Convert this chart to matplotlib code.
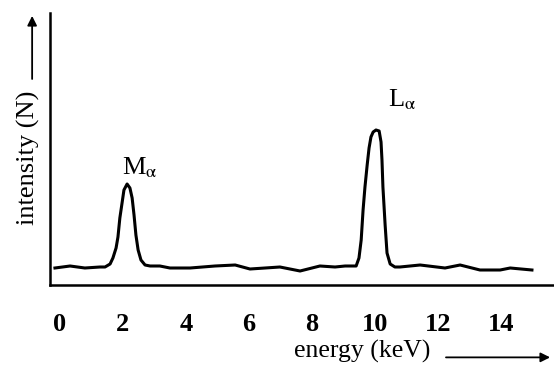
import matplotlib
matplotlib.use('Agg')
import matplotlib.pyplot as plt

# spectrum (energy in keV, intensity in arbitrary units)
energy = [-0.16, 0.32, 0.79, 1.27, 1.43, 1.59, 1.68, 1.78, 1.84, 1.90, 1.97, 2.03,
          2.13, 2.22, 2.29, 2.35, 2.41, 2.48, 2.57, 2.70, 2.86, 3.17, 3.49, 4.13,
          4.92, 5.56, 6.03, 6.51, 6.98, 7.62, 8.25, 8.73, 9.05, 9.40, 9.49, 9.56,
          9.62, 9.68, 9.75, 9.81, 9.87, 9.94, 10.03, 10.13, 10.19, 10.22, 10.25,
          10.32, 10.38, 10.48, 10.63, 10.79, 11.43, 12.22, 12.70, 13.33, 13.97,
          14.29, 14.98]
intensity = [17, 19, 17, 18, 18, 21, 27, 37, 48, 67, 82, 95,
             101, 97, 87, 70, 50, 35, 25, 20, 19, 19, 17, 17,
             19, 20, 16, 17, 18, 14, 19, 18, 19, 19, 27, 45,
             75, 98, 120, 137, 148, 153, 155, 154, 143, 125, 98,
             60, 32, 21, 18, 18, 20, 17, 20, 15, 15,
             17, 15]

xticks = [0, 2, 4, 6, 8, 10, 12, 14]
peak_labels = ['M$_{\\mathrm{α}}$', 'L$_{\\mathrm{α}}$']
peak_label_pos = [(1.97, 117), (10.41, 185)]

plt.rcParams['font.family'] = ['Liberation Serif', 'DejaVu Serif']
plt.rcParams['mathtext.fontset'] = 'stix'

fig = plt.figure(figsize=(5.54, 3.75), dpi=100)
ax = fig.add_axes([50 / 554, 90 / 375, 1 - 50 / 554, 272 / 375])

ax.plot(energy, intensity, color='black', lw=2.2, solid_joinstyle='round')

ax.set_xlim(-0.317, 15.68)
ax.set_ylim(0, 272)
ax.spines['top'].set_visible(False)
ax.spines['right'].set_visible(False)
ax.spines['left'].set_linewidth(1.8)
ax.spines['bottom'].set_linewidth(1.8)
ax.set_yticks([])
ax.set_xticks(xticks)
ax.set_xticklabels([str(t) for t in xticks], fontsize=19, fontweight='bold')
ax.tick_params(axis='x', length=0, pad=20)

for lab, (x, y) in zip(peak_labels, peak_label_pos):
    ax.text(x, y, lab, fontsize=19, ha='left', va='center')

# axis titles with arrows
fig.text(0.052, 0.58, 'intensity (N)', rotation=90, fontsize=19,
         ha='center', va='center')
fig.add_artist(matplotlib.patches.FancyArrowPatch(
    (0.058, 0.782), (0.058, 0.965), transform=fig.transFigure,
    arrowstyle='-|>', mutation_scale=14, lw=1.3, color='black'))

fig.text(0.654, 0.062, 'energy (keV)', fontsize=18.5, ha='center', va='center')
fig.add_artist(matplotlib.patches.FancyArrowPatch(
    (0.80, 0.047), (0.998, 0.047), transform=fig.transFigure,
    arrowstyle='-|>', mutation_scale=14, lw=1.3, color='black'))

fig.savefig('out.png', dpi=100)
